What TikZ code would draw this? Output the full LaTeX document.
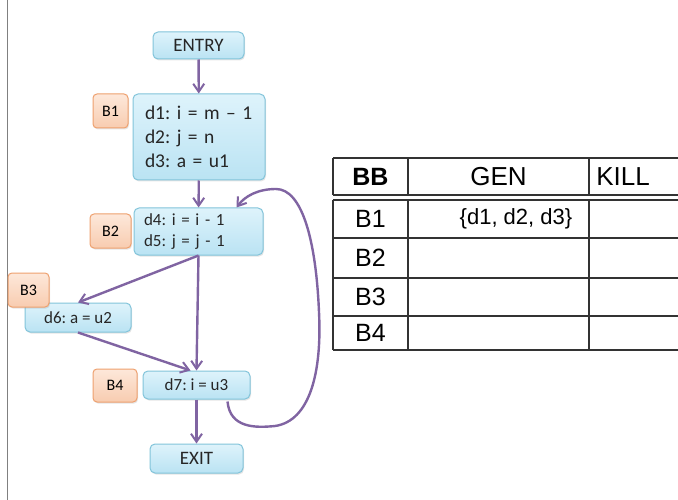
\documentclass[tikz,border=0pt]{standalone}
\usepackage{fontspec}
\setmainfont{Carlito}
\newfontfamily\tabfont{Liberation Sans}
\usetikzlibrary{arrows.meta,shadows,calc}
\definecolor{flow}{RGB}{128,100,162}
\definecolor{bbtop}{RGB}{222,243,251}
\definecolor{bbbot}{RGB}{186,227,243}
\definecolor{bbline}{RGB}{130,196,218}
\definecolor{lbtop}{RGB}{253,232,218}
\definecolor{lbbot}{RGB}{248,204,176}
\definecolor{lbline}{RGB}{238,160,110}
\tikzset{
  block/.style  = {draw=bbline, rounded corners=5pt, line width=1pt, top color=bbtop,
                   bottom color=bbbot, inner sep=0pt, text=black!85,
                   drop shadow={opacity=0.2, shadow xshift=1pt, shadow yshift=-1.5pt}},
  term/.style   = {block, font=\fontsize{19}{21}\selectfont},
  tag/.style    = {draw=lbline, rounded corners=4pt, line width=1pt, top color=lbtop,
                   bottom color=lbbot, inner sep=0pt, font=\fontsize{16}{18}\selectfont,
                   drop shadow={opacity=0.2, shadow xshift=1pt, shadow yshift=-1.5pt}},
  arrow/.style  = {-{Straight Barb[length=8pt,width=11pt,line width=2pt]},
                   draw=flow, line width=2.4pt},
  grid/.style   = {draw=black!80, line width=1.2pt},
  cell/.style   = {font=\tabfont\fontsize{25}{27}\selectfont, inner sep=0pt},
}
\begin{document}
\frenchspacing
\begin{tikzpicture}[x=1pt, y=-1pt]
  \clip (0,0) rectangle (678,500);
  \fill[white] (0,0) rectangle (678,500);
  \draw[draw=black!50, line width=1.3pt] (7.5,0) -- (7.5,500);
  % flow graph
  \node[term, minimum width=91pt, minimum height=27pt] (entry) at (198.5,45.5) {ENTRY};
  \node[block, minimum width=132pt, minimum height=86pt, text width=108pt, inner xsep=12pt,
        align=left, font=\fontsize{19.5}{24}\selectfont] (b1) at (199,137)
        {d1: i = m -- 1\\ d2: j = n\\ d3: a = u1};
  \node[block, minimum width=129pt, minimum height=47pt, text width=109pt, inner xsep=10pt,
        align=left, font=\fontsize{17}{21}\selectfont] (b2) at (198.5,231.5)
        {d4: i = i - 1\\ d5: j = j - 1};
  \node[block, minimum width=106pt, minimum height=29pt,
        font=\fontsize{17}{19}\selectfont] (b3) at (78,317.5) {d6: a = u2};
  \node[block, minimum width=107pt, minimum height=28pt,
        font=\fontsize{17}{19}\selectfont] (b4) at (196.5,385) {d7: i = u3};
  \node[term, minimum width=93pt, minimum height=29pt] (exit) at (196.5,458.5) {EXIT};
  \node[tag, minimum width=35pt, minimum height=34pt] (t1) at (110.5,111) {B1};
  \node[tag, minimum width=41pt, minimum height=34pt] (t2) at (110.5,231) {B2};
  \node[tag, minimum width=41pt, minimum height=34pt] (t3) at (28.5,290) {B3};
  \node[tag, minimum width=44pt, minimum height=33pt] (t4) at (115,385.5) {B4};
  % edges
  \draw[arrow] (entry) -- (b1);
  \draw[arrow] (b1) -- (b2);
  \draw[arrow] (b2.south) -- (b3.north);
  \draw[arrow] (b2.south) -- (b4.north);
  \draw[arrow] (b3.south) -- ($(b4.north)+(-6,0)$);
  \draw[arrow] (b4) -- (exit);
  \coordinate (loopstart) at ($(b4.south)+(31,2)$);
  \coordinate (loopend) at ($(b2.north)+(38,0)$);
  \draw[arrow] (loopstart) .. controls (230,428) and (255,428) .. (275,426)
    .. controls (310,421) and (322,372) .. (319,312)
    .. controls (316,240) and (302,189) .. (276,189)
    .. controls (258,189) and (245,196) .. (loopend);
  % GEN / KILL table
  \foreach \yy in {158,195,200,238,278,316,350}
    \draw[grid] (333,\yy) -- (700,\yy);
  \foreach \xx in {333,408,589}
    {\draw[grid] (\xx,158) -- (\xx,195); \draw[grid] (\xx,200) -- (\xx,350);}
  \node[cell, font=\tabfont\bfseries\fontsize{25}{27}\selectfont] (hbb) at (370.5,177) {BB};
  \node[cell, font=\tabfont\fontsize{26}{28}\selectfont] (hgen) at (498.5,177) {GEN};
  \node[cell, font=\tabfont\fontsize{26}{28}\selectfont] (hkill) at (623,177) {KILL};
  \node[cell] (r1) at (370.5,219) {B1};
  \node[cell] (r2) at (370.5,258) {B2};
  \node[cell] (r3) at (370.5,297) {B3};
  \node[cell] (r4) at (370.5,333) {B4};
  \node[cell, font=\tabfont\fontsize{22}{24}\selectfont] (g1) at (516,219) {\{d1, d2, d3\}};
\end{tikzpicture}
\end{document}
